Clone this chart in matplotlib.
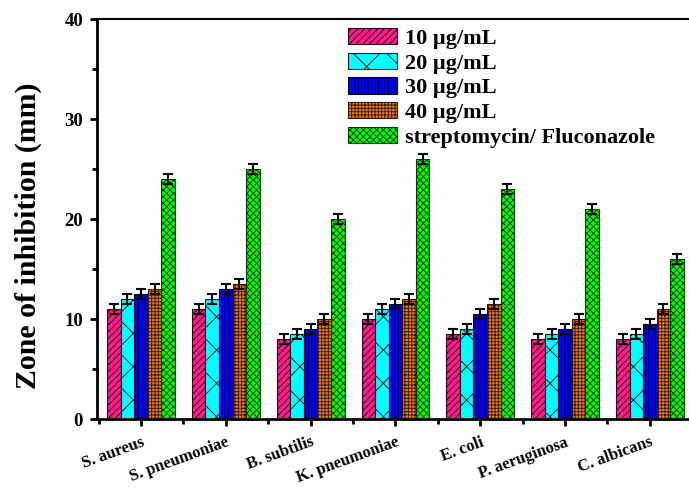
import numpy as np
import matplotlib
matplotlib.use("Agg")
import matplotlib.pyplot as plt

plt.rcParams['font.family'] = ['Liberation Serif', 'DejaVu Serif']
plt.rcParams['font.weight'] = 'bold'
plt.rcParams['hatch.linewidth'] = 0.7

# data (zone of inhibition, mm)
organisms = ['S. aureus', 'S. pneumoniae', 'B. subtilis', 'K. pneumoniae',
             'E. coli', 'P. aeruginosa', 'C. albicans']
series_names = ['10 µg/mL', '20 µg/mL', '30 µg/mL', '40 µg/mL',
                'streptomycin/ Fluconazole']
conc_10 = [11, 11, 8, 10, 8.5, 8, 8]
conc_20 = [12, 12, 8.5, 11, 9, 8.5, 8.5]
conc_30 = [12.5, 13, 9, 11.5, 10.5, 9, 9.5]
conc_40 = [13, 13.5, 10, 12, 11.5, 10, 11]
standard = [24, 25, 20, 26, 23, 21, 16]
err = [0.5, 0.5, 0.5, 0.5, 0.5, 0.5, 0.5]

colors = ['#FF1A8C', '#00FFFF', '#0000FF', '#FF8000', '#00FF00']
hatches = ['/////', 'x', '|||||', '+++++', 'xxxxx']
edges = ['#300018', '#002020', '#000030', '#301800', '#004000']

fig = plt.figure(figsize=(6.89, 4.87), dpi=100)
ax = fig.add_axes([97 / 689, 1 - 419 / 487, 597 / 689, 400 / 487])

x = np.arange(len(organisms))
w = 0.16
all_series = [conc_10, conc_20, conc_30, conc_40, standard]
for i, vals in enumerate(all_series):
    pos = x + (i - 2) * w
    ax.bar(pos, vals, w, color=colors[i], hatch=hatches[i], edgecolor=edges[i],
           linewidth=0.8, label=series_names[i], zorder=2)
    ax.errorbar(pos, vals, yerr=err, fmt='none', ecolor='black', elinewidth=1.5,
                capsize=3.6, capthick=1.5, zorder=3)

ax.set_xlim(-0.519, 6.52)
ax.set_ylim(0, 40)
ax.set_yticks([0, 10, 20, 30, 40])
ax.set_yticks([5, 15, 25, 35], minor=True)
ax.set_xticks(x)
ax.set_xticks(np.arange(-0.5, 7, 1), minor=True)
ax.set_xticklabels(organisms, rotation=20, ha='right', va='top',
                   rotation_mode='anchor', fontsize=12, fontweight='bold')
for lab in ax.get_yticklabels():
    lab.set_fontsize(13.5)
    lab.set_fontweight('bold')

ax.spines['right'].set_visible(False)
ax.spines['left'].set_linewidth(2)
ax.spines['bottom'].set_linewidth(2)
ax.spines['top'].set_linewidth(1.5)
ax.tick_params(axis='both', which='major', direction='out', length=5, width=2, pad=5)
ax.tick_params(axis='both', which='minor', direction='out', length=3.5, width=2)
ax.tick_params(axis='x', which='major', pad=6)

fig.text(28 / 689, 1 - 236 / 487, 'Zone of inhibition (mm)', rotation=90,
         ha='center', va='center', fontsize=21.5, fontweight='bold')

ax.legend(loc='upper left', bbox_to_anchor=(348 / 689, 1 - 28 / 487),
          bbox_transform=fig.transFigure, frameon=False, borderpad=0,
          borderaxespad=0, fontsize=16, handlelength=2.2, handleheight=0.75,
          handletextpad=0.35, labelspacing=0.17)

fig.savefig('out.png', dpi=100)
